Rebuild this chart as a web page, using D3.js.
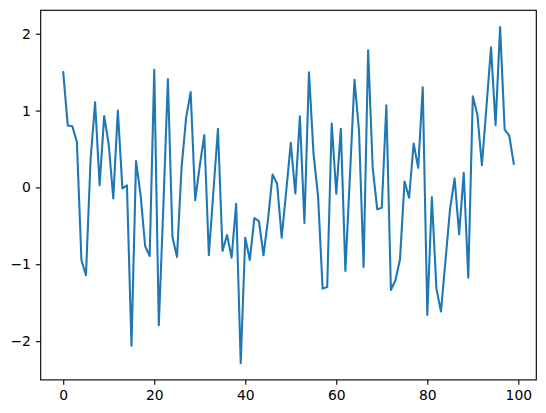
<!DOCTYPE html>
<html><head><meta charset="utf-8">
<script src="https://cdn.jsdelivr.net/npm/d3@7"></script>
<style>body{margin:0;background:#fff}svg{display:block}text{font-family:"DejaVu Sans",sans-serif}</style>
</head><body>
<script>
const values = [1.50,0.805,0.796,0.593,-0.944,-1.143,0.35,1.108,0.03,0.93,
0.558,-0.143,1.0,-0.013,0.026,-2.061,0.342,-0.1,-0.762,-0.892,
1.532,-1.792,-0.25,1.41,-0.645,-0.905,0.255,0.904,1.242,-0.165,
0.28,0.683,-0.883,-0.05,0.762,-0.827,-0.62,-0.914,-0.212,-2.286,
-0.654,-0.944,-0.399,-0.438,-0.883,-0.42,0.168,0.048,-0.654,-0.05,
0.58,-0.078,0.926,-0.464,1.497,0.44,-0.12,-1.317,-1.295,0.831,
-0.083,0.762,-1.087,0.15,1.402,0.731,-1.035,1.783,0.255,-0.286,
-0.264,1.069,-1.334,-1.208,-0.935,0.078,-0.134,0.571,0.255,1.303,
-1.658,-0.126,-1.317,-1.615,-0.95,-0.28,0.117,-0.61,0.19,-1.174,
1.186,0.948,0.29,1.05,1.822,0.809,2.086,0.753,0.675,0.307];
const xTicks = [0,20,40,60,80,100];
const yTicks = [-2,-1,0,1,2];

const W=546,H=413;
const m={left:40.7,top:10.3,width:495.6,height:369.6};
const svg=d3.select("body").append("svg").attr("width",W).attr("height",H);
const n=values.length;
const xPad=(n-1)*0.05;
const x=d3.scaleLinear().domain([-xPad,n-1+xPad]).range([m.left,m.left+m.width]);
const [ymin,ymax]=d3.extent(values);
const yPad=(ymax-ymin)*0.05;
const y=d3.scaleLinear().domain([ymin-yPad,ymax+yPad]).range([m.top+m.height,m.top]);

const fmt=d=>String(d).replace("-","\u2212");
const xAxis=svg.append("g").attr("transform",`translate(0,${m.top+m.height})`)
  .call(d3.axisBottom(x).tickValues(xTicks).tickSize(4.86).tickPadding(4.9).tickFormat(fmt));
const yAxis=svg.append("g").attr("transform",`translate(${m.left},0)`)
  .call(d3.axisLeft(y).tickValues(yTicks).tickSize(4.86).tickPadding(4.9).tickFormat(fmt));
[xAxis,yAxis].forEach(g=>{
  g.select(".domain").remove();
  g.selectAll("line").attr("stroke","#000").attr("stroke-width",1.11);
  g.selectAll("text").attr("font-size","13.9px").attr("fill","#000").attr("font-family","DejaVu Sans");
});

svg.append("path").datum(values)
  .attr("fill","none").attr("stroke","#1f77b4").attr("stroke-width",2.08)
  .attr("stroke-linejoin","round").attr("stroke-linecap","square")
  .attr("d",d3.line().x((d,i)=>x(i)).y(d=>y(d)));

svg.append("rect").attr("x",m.left).attr("y",m.top).attr("width",m.width).attr("height",m.height)
  .attr("fill","none").attr("stroke","#000").attr("stroke-width",1.11);
</script>
</body></html>
